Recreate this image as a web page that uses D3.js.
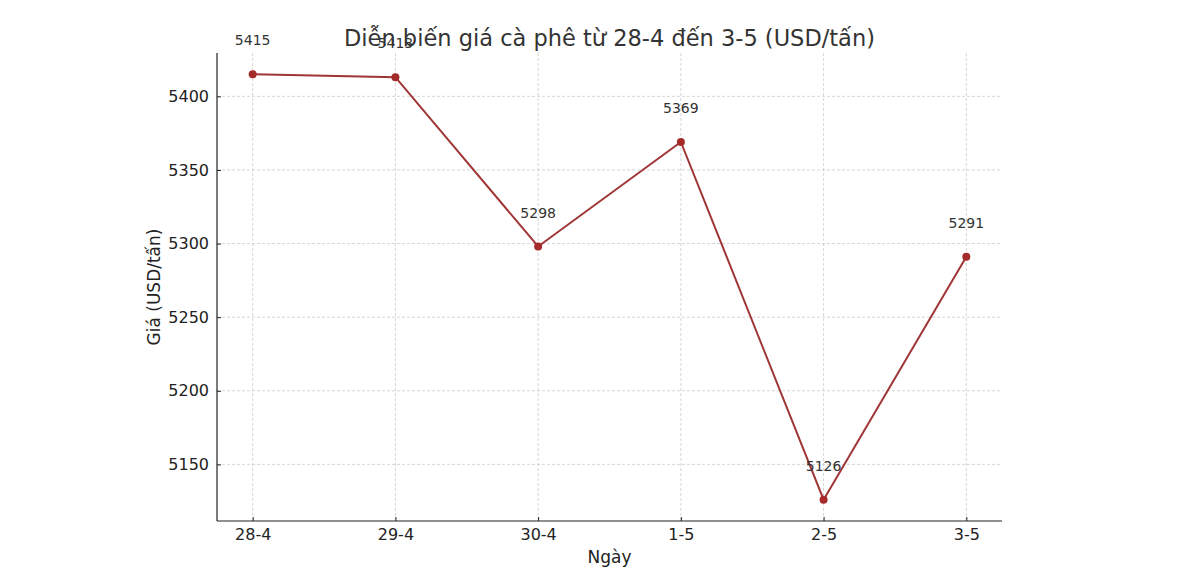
<!DOCTYPE html>
<html><head><meta charset="utf-8">
<script src="https://cdn.jsdelivr.net/npm/d3@7"></script>
<style>body{margin:0;background:#fff;} text{font-family:"DejaVu Sans",sans-serif;}</style>
</head><body><svg id="c" width="1194" height="575"></svg>
<script>
const categories = ["28-4","29-4","30-4","1-5","2-5","3-5"];
const prices = [5415,5413,5298,5369,5126,5291];
const yTicks = [5150,5200,5250,5300,5350,5400];
const titleText = "Diễn biến giá cà phê từ 28-4 đến 3-5 (USD/tấn)";
const xLabel = "Ngày", yLabel = "Giá (USD/tấn)";

const L=217,R=1002,T=53,B=521;
const svg=d3.select("#c");
// matplotlib 5% margins on index 0..5
const xi=d3.scaleLinear().domain([-0.25,categories.length-0.75]).range([L,R]);
const lo=d3.min(prices),hi=d3.max(prices),m=(hi-lo)*0.05;
const y=d3.scaleLinear().domain([lo-m,hi+m]).range([B,T]);
const X=i=>xi(i);

// grid
const g=svg.append("g");
g.selectAll(".gy").data(yTicks).join("line").attr("x1",L).attr("x2",R).attr("y1",d=>y(d)).attr("y2",d=>y(d))
 .attr("stroke","#cccccc").attr("stroke-width",0.8).attr("stroke-dasharray","3,2");
g.selectAll(".gx").data(categories).join("line").attr("x1",(d,i)=>X(i)).attr("x2",(d,i)=>X(i)).attr("y1",T).attr("y2",B)
 .attr("stroke","#cccccc").attr("stroke-width",0.8).attr("stroke-dasharray","3,2");

// axes
const ya=d3.axisLeft(y).tickValues(yTicks).tickFormat(d3.format("d")).tickSize(-4).tickPadding(8);
const ax=svg.append("g").attr("transform",`translate(${L},0)`).call(ya);
ax.select(".domain").remove();
ax.selectAll("text").attr("font-size",16).attr("fill","#222").style("font-family","DejaVu Sans");
ax.selectAll("line").attr("stroke","#222");
const xa=d3.axisBottom(xi).tickValues(d3.range(categories.length)).tickFormat(i=>categories[i]).tickSize(-4).tickPadding(8);
const bx=svg.append("g").attr("transform",`translate(0,${B})`).call(xa);
bx.select(".domain").remove();
bx.selectAll("text").attr("font-size",16).attr("fill","#222").style("font-family","DejaVu Sans");
bx.selectAll("line").attr("stroke","#222");
svg.append("line").attr("x1",L).attr("x2",L).attr("y1",T).attr("y2",B).attr("stroke","#222").attr("stroke-width",1.2);
svg.append("line").attr("x1",L).attr("x2",R).attr("y1",B).attr("y2",B).attr("stroke","#222").attr("stroke-width",1.2);

// line
const line=d3.line().x((d,i)=>X(i)).y(d=>y(d));
svg.append("path").datum(prices).attr("d",line).attr("fill","none").attr("stroke","#a03535").attr("stroke-width",2);
svg.selectAll(".pt").data(prices).join("circle").attr("cx",(d,i)=>X(i)).attr("cy",d=>y(d)).attr("r",4).attr("fill","#a52a2a");
svg.selectAll(".lb").data(prices).join("text").attr("x",(d,i)=>X(i)).attr("y",d=>y(d)-29).attr("text-anchor","middle")
 .attr("font-size",14).attr("fill","#333").text(d=>d);

// title & labels
svg.append("text").attr("x",(L+R)/2).attr("y",46).attr("text-anchor","middle").attr("font-size",22.5).attr("fill","#333").text(titleText);
svg.append("text").attr("x",(L+R)/2).attr("y",563).attr("text-anchor","middle").attr("font-size",17).attr("fill","#222").text(xLabel);
svg.append("text").attr("transform",`translate(160,${(T+B)/2}) rotate(-90)`).attr("text-anchor","middle").attr("font-size",17).attr("fill","#222").text(yLabel);
</script></body></html>
